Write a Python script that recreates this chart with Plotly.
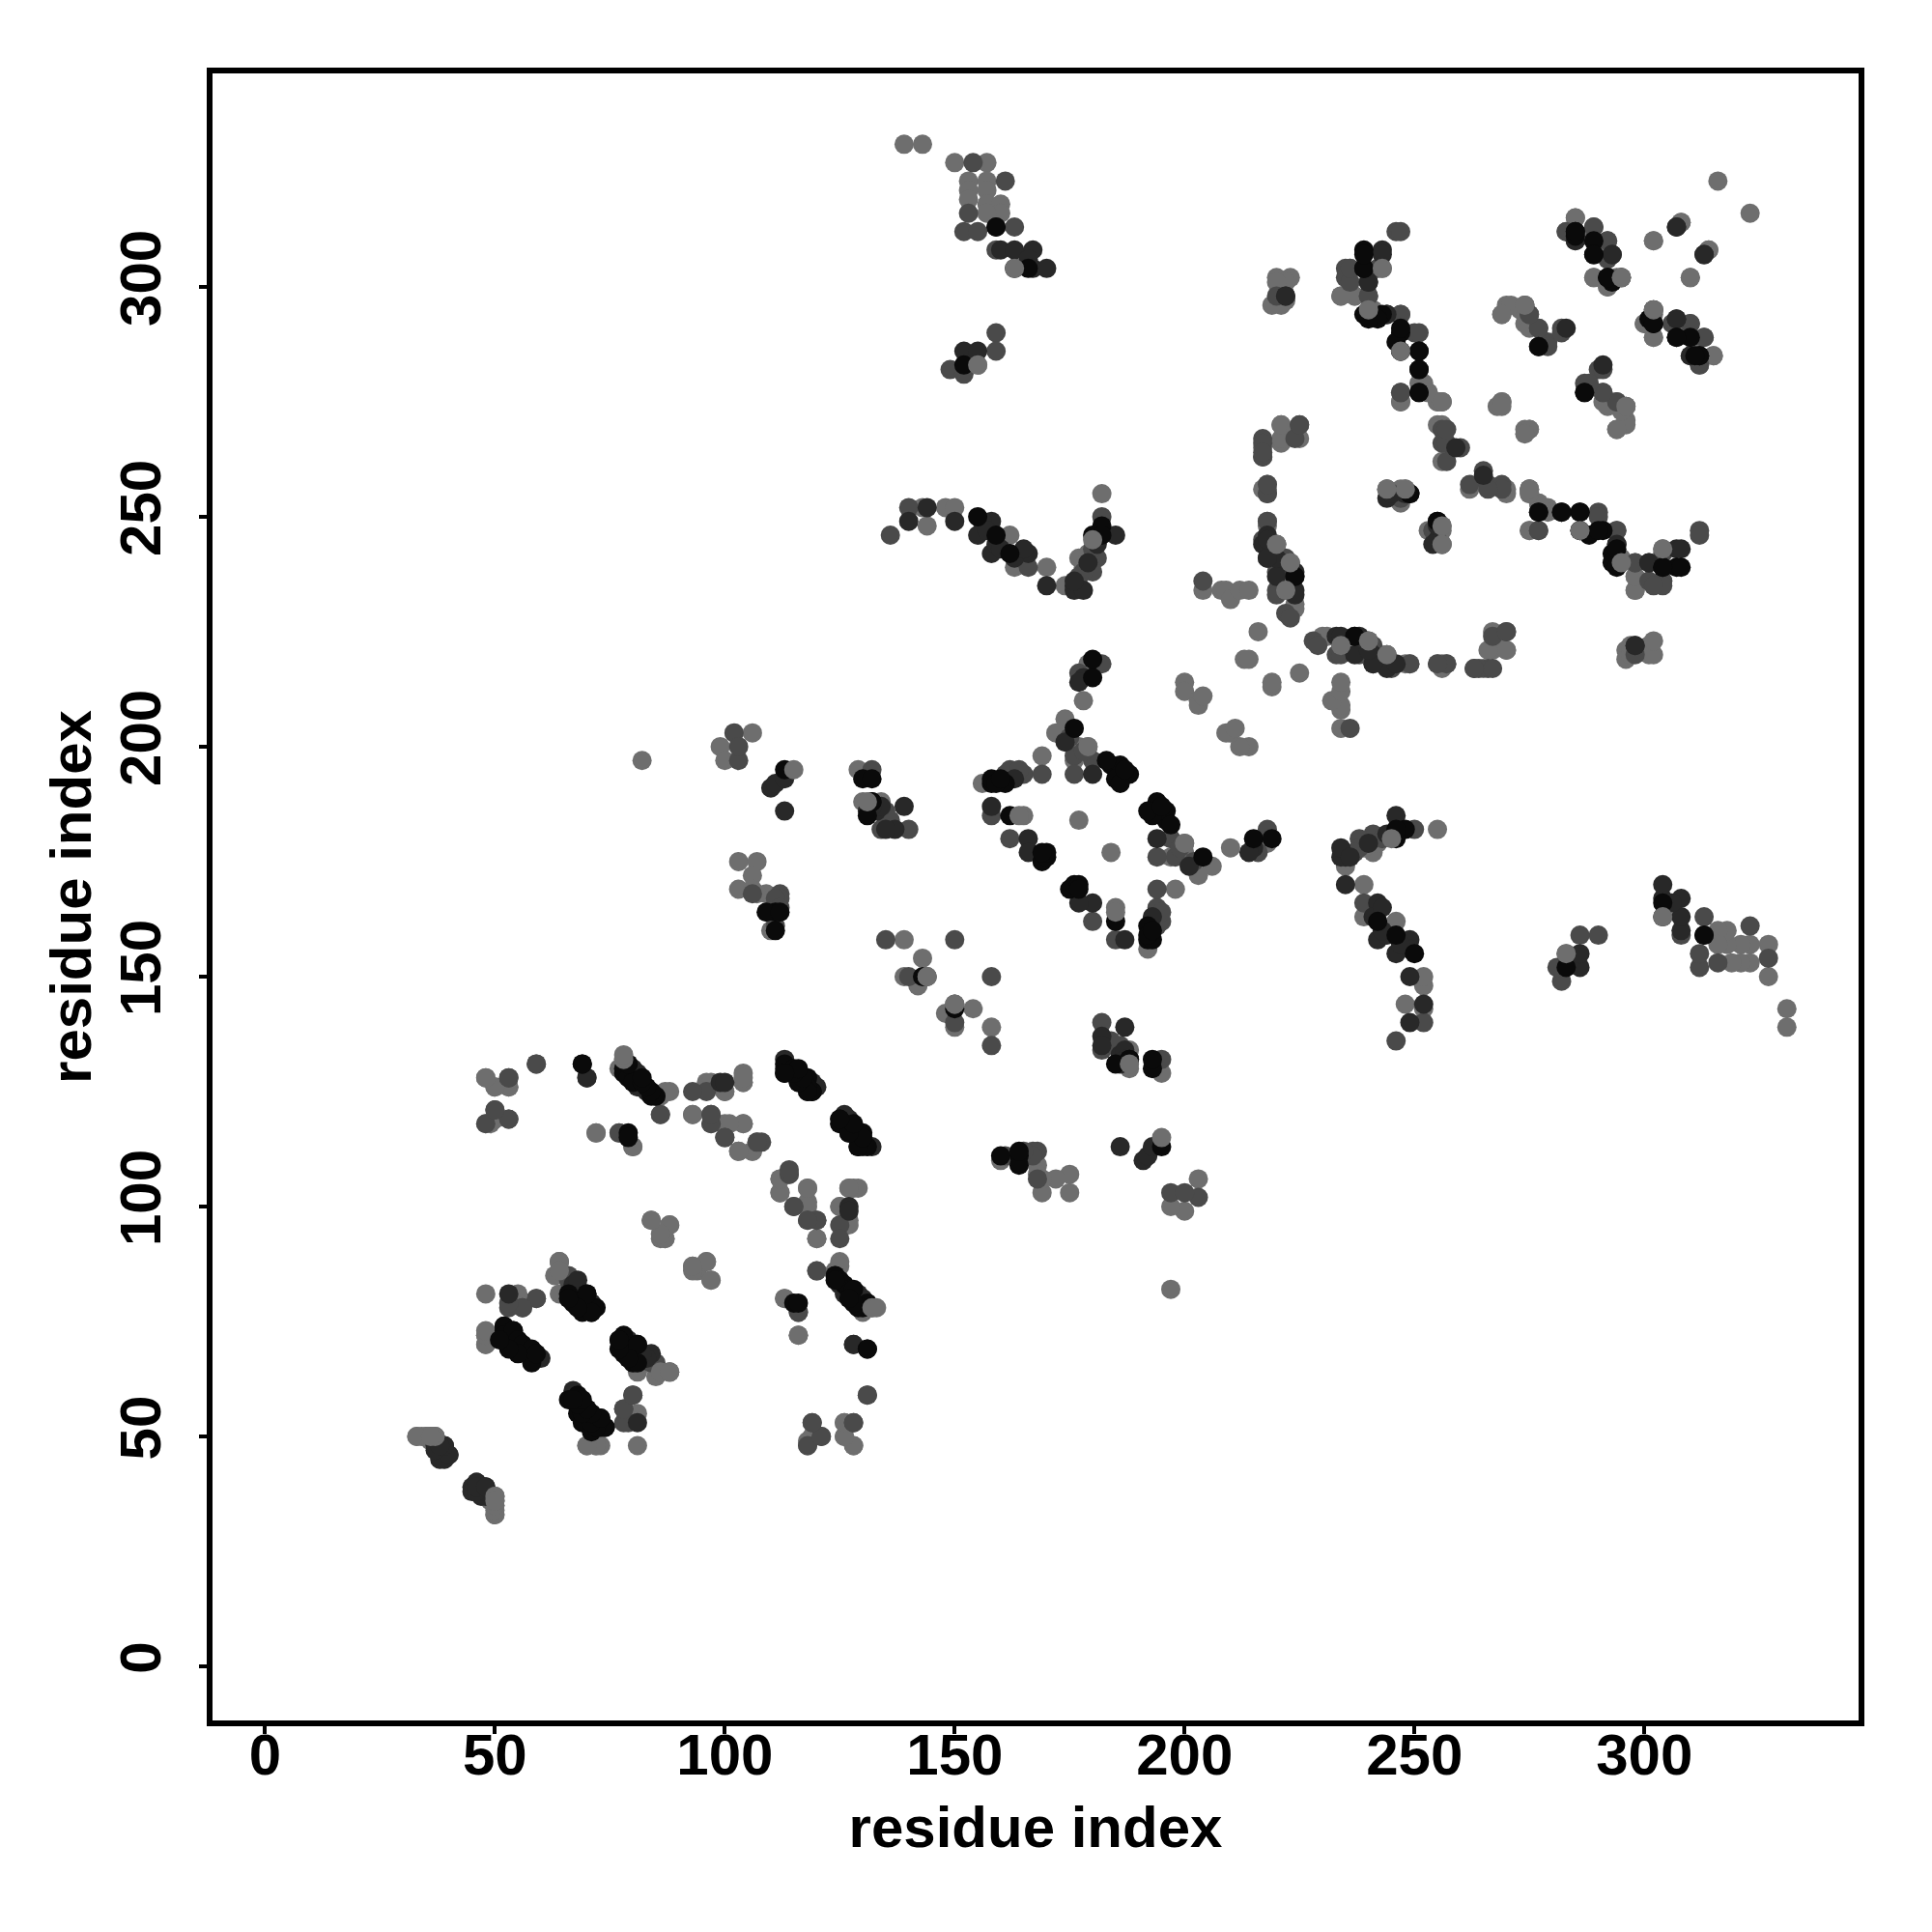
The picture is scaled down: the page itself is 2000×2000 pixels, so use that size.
import plotly.graph_objects as go

# residue contacts: (i, j) with i < j; the map is symmetric.
gray_under = [
 (78,132),(79,131),(77,130),(64,88),(63,85),(64,81),(48,72),(48,70),(48,118),(49,118),(50,119),
 (33,50),(34,50),(35,50),(36,50),(37,50),(48,128),(50,126),(53,126),(72,116),(77,116),(80,113),
 (86,124),(87,125),(96,127),(100,125),(104,129),(104,127),(93,120),(100,118),(104,118),(103,112),(106,112),(107,114),
 (112,106),(112,103),(118,104),(118,101),(120,93),(127,104),(128,104),(125,100),(127,97),(120,86),(125,88),
 (113,80),(116,72),(119,50),(126,53),(126,50),(128,48),(70,48),(72,48),(73,48),(81,55),(81,48),
 (84,97),(88,96),(86,93),(87,93),(93,87),(96,88),(94,86),(97,84),(50,37),(50,36),(50,35),(50,33),(49,36),
 (99,200),(106,203),(100,197),(103,175),(107,175),(106,172),(103,169),(109,168),(110,160),
 (129,195),(130,188),(134,188),(139,158),(143,154),(139,150),(142,148),(144,150),(156,192),(169,198),(165,185),(177,184),
 (174,206),(172,203),(179,200),(176,197),(178,210),(179,218),
 (139,331),(143,331),(150,327),(157,327),(153,323),(157,323),(153,321),(157,321),(153,319),(157,318),(160,318),(160,316),(157,316),
 (155,283),(220,302),(223,302),(220,297),(222,297),(236,304),(234,298),(237,298),(241,295),
 (143,252),(148,252),(150,252),(144,248),(162,246),(163,239),(170,239),(174,235),(182,255),(177,241),
 (221,270),(221,266),(225,267),(217,265),(218,257),(218,256),(218,248),(220,244),(224,231),
 (204,234),(208,234),(209,234),(210,232),(212,234),(214,234),(216,225),(213,219),(214,219),
 (230,224),(234,222),(244,220),(249,218),(255,218),(256,217),(267,221),(270,221),(268,224),
 (200,214),(200,212),(203,210),(203,209),(204,211),
 (316,323),(302,310),(308,314),(314,308),(310,302),(285,315),(283,312),(292,307),(289,302),(292,300),(294,302),
 (270,296),(269,294),(274,296),(273,295),(274,292),(300,292),(302,289),(315,285),(311,288),
 (291,275),(296,274),(296,271),(294,269),(269,275),(268,274),(275,269),(274,269),
 (247,286),(251,279),(253,277),(247,275),(256,275),(255,275),(256,270),(255,270),(256,262),
 (275,256),(275,255),(277,253),(279,252),(275,247),(286,247),(295,240),(304,243),(298,237),(298,234),
 (244,256),(247,256),(256,248),(253,247),(256,244),(296,221),(296,219),(301,222),(301,220),
 (107,168),(106,169),(178,239),(179,242),(177,200),(82,197),
]
mid_gray = [
 (53,128),(59,131),(50,121),(53,119),(53,78),(56,78),(59,80),(66,85),(84,66),(86,120),(97,120),(97,118),(100,115),(108,114),
 (114,107),(115,100),(118,97),(120,97),(125,96),(125,93),(116,77),(119,53),(118,48),(121,50),(128,53),(131,59),(80,59),(78,56),(79,53),
 (40,46),(46,38),(49,37),(102,203),(103,197),(103,200),(106,168),(112,168),(112,167),(111,161),
 (132,195),(135,186),(134,182),(140,182),(135,158),(140,150),(158,150),(158,185),(161,194),(165,194),(169,194),(162,180),
 (176,198),(176,194),(180,197),(177,216),(182,218),
 (154,327),(161,323),(153,316),(152,312),(155,312),(163,313),(159,308),(159,290),(159,286),(149,282),(152,281),
 (220,298),(246,312),(242,304),(235,304),(235,302),(240,298),(244,294),(247,294),
 (136,246),(140,252),(182,250),(181,241),(180,238),(178,238),(166,239),
 (225,270),(217,267),(217,263),(218,255),(222,241),(220,238),(220,234),(222,229),(204,236),
 (228,223),(233,220),(240,223),(245,217),(249,218),(257,218),(263,217),(266,217),(264,217),(267,224),(270,225),
 (290,282),(287,279),(291,277),(294,275),(289,313),(292,310),(295,302),(275,294),(277,291),(279,288),(282,291),
 (302,295),(306,292),(310,292),(313,289),(312,283),
 (244,294),(250,290),(251,282),(247,277),(256,269),(256,266),(265,260),(262,257),(266,257),(269,257),
 (282,251),(290,251),(277,247),(294,247),(298,240),(301,236),(304,236),(247,254),(312,247),
 (135,183),(136,184),(175,202),(178,199),(162,195),(164,195),(111,167),(112,165),(177,237),(180,243),
]
dark_gray = [
 (81,126),(82,127),(83,125),(85,124),(67,83),(68,82),(71,79),(60,67),(84,68),(70,56),(73,54),(74,52),
 (70,128),(99,127),(120,126),(118,125),(127,119),(132,113),(130,113),(127,100),(128,70),(129,81),(130,80),
 (37,48),(38,47),(38,46),(39,46),(39,48),(45,39),(45,38),(46,40),(47,37),(48,39),(48,38),(81,53),
 (110,191),(111,192),(113,193),(113,186),(137,182),(139,187),(158,187),(166,180),(166,177),(174,201),(180,194),(178,215),(177,214),
 (159,313),(160,308),(163,308),(167,308),(166,306),(167,304),(170,304),(152,286),(155,286),(222,298),(243,308),(240,301),
 (140,249),(144,252),(150,249),(155,246),(158,249),(158,242),(166,242),(170,235),(185,246),(176,235),(176,234),(178,234),
 (217,244),(218,246),(218,241),(221,240),(224,238),(224,234),
 (233,224),(237,224),(237,220),(241,220),(241,218),(245,218),(307,313),(313,307),(285,310),(293,307),(307,293),(310,285),
 (283,291),(277,287),(259,265),(277,251),(294,244),(301,240),(307,243),(248,255),(244,254),(255,245),(298,222),
 (135,182),(133,186),(134,187),(132,187),(131,186),(176,236),(179,240),(181,244),(156,249),(157,247),(159,244),(160,243),(163,241),(165,243),(163,193),
]
black = [
 (78,130),(78,129),(79,128),(80,127),(84,124),(66,81),(70,81),(67,79),(69,77),(71,77),(52,73),(52,74),(52,72),(53,71),(54,73),(55,71),(55,69),(56,70),(57,68),(58,69),(58,67),
 (69,131),(79,116),(78,72),(77,71),(81,70),(78,68),(80,66),(66,58),(68,59),(68,55),(69,53),(71,51),(113,131),(113,129),(115,130),(116,127),(118,128),(119,125),
 (125,119),(126,118),(125,118),(127,116),(128,117),(129,115),(130,116),(129,113),(115,79),(124,85),(125,84),(126,83),(127,82),(128,82),(131,79),(131,69),
 (113,195),(111,164),(109,164),(112,164),(111,160),(130,193),(132,193),(132,188),(131,185),(143,150),
 (158,192),(161,192),(162,185),(169,175),(176,204),(184,196),(186,196),(185,193),(188,194),(186,192),(180,215),(180,219),
 (159,313),(163,304),(166,304),(152,283),(239,308),(239,304),(239,294),(243,294),
 (155,250),(159,246),(162,242),(182,248),(180,246),(182,246),(224,237),(285,312),(285,311),(289,310),(289,307),(292,302),
 (301,293),(302,292),(307,289),(312,285),(287,277),(247,290),(247,286),(251,286),(251,282),(251,277),(286,251),(288,246),(291,247),(293,242),(293,240),(304,239),(307,239),(249,255),(255,249),
 (158,193),(159,192),(160,193),(170,176),(170,177),(169,177),(183,197),(187,195),(132,188),
]
gray_over = [
 (115,195),(131,188),(164,185),(144,150),(150,144),(179,200),(180,245),(163,304),(155,283),(220,244),(234,222),(256,275),(247,286),
 (296,274),(302,295),(304,243),(295,240),(256,248),(256,244),(223,240),(50,37),(50,36),(64,88),(132,78),(133,78),(88,64),(86,64),
]
axis_ticks = [0, 50, 100, 150, 200, 250, 300]
axis_title = "residue index"
shades = {"#6e6e6e": gray_under, "#4a4a4a": mid_gray, "#282828": dark_gray, "#0a0a0a": black}

fig = go.Figure()


def add_points(pairs, colour):
    xs = [p[0] for p in pairs] + [p[1] for p in pairs]
    ys = [p[1] for p in pairs] + [p[0] for p in pairs]
    fig.add_trace(go.Scatter(x=xs, y=ys, mode="markers", showlegend=False,
                             marker=dict(size=20, color=colour, line=dict(width=0))))


for colour, pairs in shades.items():
    add_points(pairs, colour)
add_points(gray_over, "#6e6e6e")

axis_style = dict(showgrid=False, zeroline=False, showline=True, mirror=True, linecolor="black", linewidth=6,
                  ticks="outside", ticklen=8, tickwidth=4, tickcolor="black", tickvals=axis_ticks,
                  tickfont=dict(family="Liberation Sans", size=60, color="black", weight="bold"))
title_font = dict(family="Liberation Sans", size=60, color="black", weight="bold")
fig.update_layout(width=2000, height=2000, margin=dict(l=212, r=84, t=68, b=227, autoexpand=False),
                  paper_bgcolor="white", plot_bgcolor="white", font=dict(family="Liberation Sans"),
                  xaxis=dict(range=[-11.43, 346.6], ticklabelstandoff=-30,
                             title=dict(text=axis_title, font=title_font, standoff=23), **axis_style),
                  yaxis=dict(range=[-11.76, 346.4], tickangle=-90, ticklabelstandoff=16,
                             title=dict(text=axis_title, font=title_font, standoff=0), **axis_style))
fig.write_html("out.html")
